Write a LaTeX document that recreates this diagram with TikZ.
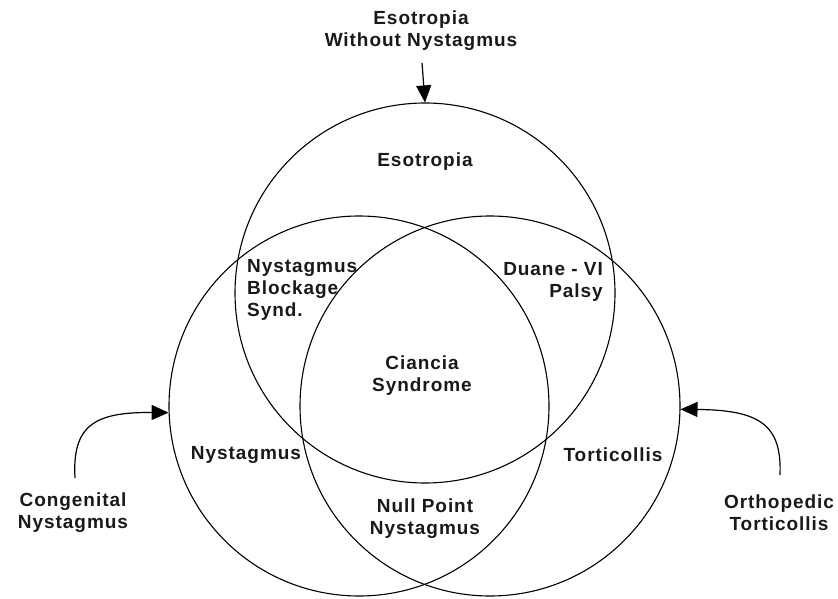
\documentclass[tikz,border=0pt]{standalone}
\usepackage{fontspec}
\setmainfont{Liberation Sans}[LetterSpace=5]
\usepackage{xcolor}
\usetikzlibrary{arrows.meta}

\begin{document}
\begin{tikzpicture}[
    x=1pt, y=-1pt,
    venn/.style  = {circle, draw=black, line width=1.1pt,
                    minimum size=380pt, inner sep=0pt},
    lbl/.style   = {font=\fontsize{19}{22}\selectfont\bfseries,
                    text=black!90, align=center, inner sep=0pt},
    feed/.style  = {-{Triangle[length=17pt,width=15pt]}, line width=1.2pt}
]
\useasboundingbox (0,0) rectangle (838,599);

% the three sets
\node[venn] (eso)  at (425,293) {};
\node[venn] (nyst) at (359,406) {};
\node[venn] (tort) at (490,406) {};

% region labels
\node[lbl] (esoin)   at (425,162) {Esotropia};
\node[lbl, align=left, anchor=west]  (nbs)   at (247,290) {Nystagmus\\Blockage\\Synd.};
\node[lbl, align=right, anchor=east] (duane) at (603,282) {Duane - VI\\Palsy};
\node[lbl] (ciancia) at (422,376) {Ciancia\\Syndrome};
\node[lbl] (nystin)  at (246,455) {Nystagmus};
\node[lbl] (tortin)  at (613,455) {Torticollis};
\node[lbl] (null)    at (425,519) {Null Point\\Nystagmus};

% outside labels
\node[lbl] (esoout)  at (421,31)  {Esotropia\\Without Nystagmus};
\node[lbl] (congen)  at (73,513)  {Congenital\\Nystagmus};
\node[lbl] (ortho)   at (779,513) {Orthopedic\\Torticollis};

% arrows
\coordinate (esostart) at (422,63);
\coordinate (cnstart)  at (75,478);
\coordinate (otstart)  at (780,475);
\draw[feed] (esostart) -- (eso.north);
\draw[feed] (cnstart) .. controls (72,425) and (95,412) .. (nyst.182);
\draw[feed] (otstart) .. controls (782,425) and (760,410) .. (tort.-1);

\end{tikzpicture}
\end{document}
